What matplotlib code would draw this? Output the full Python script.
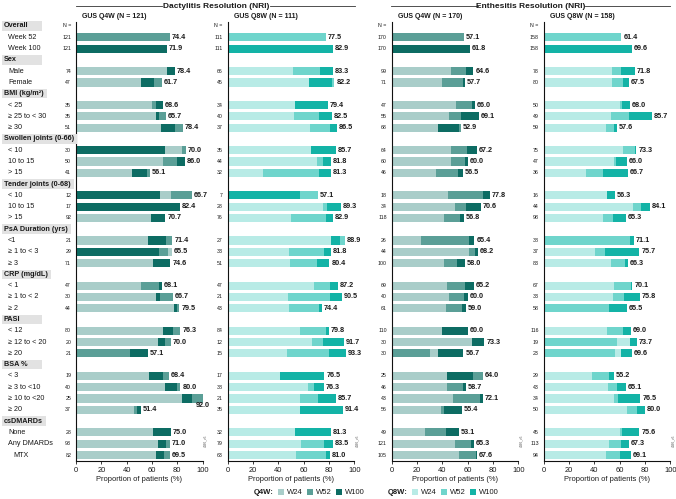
import matplotlib
matplotlib.use('Agg')
import matplotlib.pyplot as plt
from matplotlib.patches import Rectangle
from matplotlib.lines import Line2D
from matplotlib import transforms

plt.rcParams['font.family'] = ['Liberation Sans', 'DejaVu Sans']

W, H = 676, 499

# subgroup structure (header, rows)
groups = [
    ("Overall", ["Week 52", "Week 100"]),
    ("Sex", ["Male", "Female"]),
    ("BMI (kg/m²)", ["< 25", "≥ 25 to < 30", "≥ 30"]),
    ("Swollen joints (0-66)", ["< 10", "10 to 15", "> 15"]),
    ("Tender joints (0-68)", ["< 10", "10 to 15", "> 15"]),
    ("PsA Duration (yrs)", ["<1", "≥ 1 to < 3", "≥ 3"]),
    ("CRP (mg/dL)", ["< 1", "≥ 1 to < 2", "≥ 2"]),
    ("PASI", ["< 12", "≥ 12 to < 20", "≥ 20"]),
    ("BSA %", ["< 3", "≥ 3 to <10", "≥ 10 to <20", "≥ 20"]),
    ("csDMARDs", ["None", "Any DMARDs", "MTX"]),
]

panel_titles = ["GUS Q4W (N = 121)", "GUS Q8W (N = 111)", "GUS Q4W (N = 170)", "GUS Q8W (N = 158)"]

# overall week 52 / week 100
overall_w52 = [74.4, 77.5, 57.1, 61.4]
overall_w100 = [71.9, 82.9, 61.8, 69.6]

# N per row (2 overall rows + 27 subgroup rows)
n_dact_q4w = [121, 121, 74, 47, 35, 35, 51, 30, 50, 41, 12, 17, 92, 21, 29, 71, 47, 30, 44, 80, 20, 21, 19, 40, 25, 37, 28, 93, 82]
n_dact_q8w = [111, 111, 66, 45, 34, 40, 37, 35, 44, 32, 7, 28, 76, 27, 33, 51, 47, 21, 43, 84, 12, 15, 17, 38, 21, 35, 32, 79, 63]
n_enth_q4w = [170, 170, 99, 71, 47, 55, 68, 64, 60, 46, 18, 34, 118, 26, 44, 100, 69, 40, 61, 110, 30, 30, 25, 46, 43, 56, 49, 121, 105]
n_enth_q8w = [158, 158, 78, 80, 50, 49, 59, 75, 47, 36, 16, 44, 98, 38, 37, 83, 67, 33, 58, 116, 19, 23, 29, 43, 34, 50, 45, 113, 94]

# subgroup values
dact_q4w_w24 = [71.6, 51.3, 60.3, 63.2, 67.1, 83.4, 68.4, 44.2, 75.0, 82.4, 58.9, 57.1, 75.9, 60.6, 51.1, 63.3, 77.3, 68.8, 65.0, 42.9, 57.9, 70.0, 84.0, 45.9, 60.7, 64.5, 63.4]
dact_q4w_w52 = [78.4, 68.1, 62.9, 71.4, 84.3, 86.7, 80.0, 58.5, 91.7, 82.4, 70.7, 76.2, 72.4, 74.6, 66.0, 76.7, 81.8, 82.5, 75.0, 42.9, 73.7, 82.5, 100.0, 48.6, 75.0, 74.2, 74.4]
dact_q4w_w100 = [78.4, 61.7, 68.6, 65.7, 78.4, 70.0, 86.0, 56.1, 66.7, 82.4, 70.7, 71.4, 65.5, 74.6, 68.1, 66.7, 79.5, 76.3, 70.0, 57.1, 68.4, 80.0, 92.0, 51.4, 75.0, 71.0, 69.5]

dact_q8w_w24 = [51.5, 64.4, 52.9, 52.5, 64.9, 65.7, 70.5, 28.1, 71.4, 75.0, 50.0, 81.5, 48.5, 49.0, 68.1, 47.6, 48.8, 57.1, 66.7, 46.7, 41.2, 63.2, 57.1, 57.1, 53.1, 58.2, 54.0]
dact_q8w_w52 = [72.7, 84.4, 79.4, 72.5, 81.1, 85.7, 75.0, 71.9, 71.4, 78.6, 77.6, 92.6, 75.8, 70.6, 80.9, 81.0, 72.1, 77.4, 75.0, 80.0, 76.5, 68.4, 71.4, 91.4, 81.3, 75.9, 77.8]
dact_q8w_w100 = [83.3, 82.2, 79.4, 82.5, 86.5, 85.7, 81.8, 81.3, 57.1, 89.3, 82.9, 88.9, 81.8, 80.4, 87.2, 90.5, 74.4, 79.8, 91.7, 93.3, 76.5, 76.3, 85.7, 91.4, 81.3, 83.5, 81.0]

enth_q4w_w24 = [46.5, 39.4, 51.1, 45.5, 36.8, 46.9, 46.7, 34.8, 44.4, 50.0, 41.5, 23.1, 61.4, 41.0, 43.5, 45.0, 42.6, 40.0, 63.3, 36.7, 44.0, 43.5, 48.8, 39.3, 26.5, 50.4, 53.3]
enth_q4w_w52 = [58.6, 56.3, 63.8, 54.5, 54.4, 59.4, 58.3, 52.2, 72.2, 58.8, 54.2, 61.5, 65.9, 52.0, 58.0, 57.5, 55.7, 60.0, 73.3, 30.0, 72.0, 56.5, 69.8, 41.1, 42.9, 62.8, 66.7]
enth_q4w_w100 = [64.6, 57.7, 66.0, 69.1, 52.9, 67.2, 60.0, 56.5, 77.8, 70.6, 56.8, 65.4, 68.2, 58.0, 65.2, 60.0, 59.0, 60.0, 73.3, 56.7, 64.0, 58.7, 72.1, 55.4, 53.1, 65.3, 67.6]

enth_q8w_w24 = [53.8, 53.8, 60.0, 53.1, 49.2, 62.7, 55.3, 33.3, 50.0, 70.5, 46.9, 68.4, 40.5, 53.0, 55.2, 54.5, 51.7, 50.0, 68.4, 60.9, 37.9, 51.2, 55.9, 66.0, 60.0, 51.3, 48.9]
enth_q8w_w52 = [61.5, 62.5, 62.0, 67.3, 55.9, 72.0, 57.4, 47.2, 56.3, 77.3, 55.1, 68.4, 48.6, 63.9, 68.7, 63.6, 51.7, 62.9, 57.9, 56.5, 51.7, 58.1, 58.8, 74.0, 62.2, 61.1, 60.6]
enth_q8w_w100 = [71.8, 67.5, 68.0, 85.7, 57.6, 73.3, 66.0, 66.7, 56.3, 84.1, 65.3, 71.1, 75.7, 66.3, 70.1, 75.8, 65.5, 69.0, 73.7, 69.6, 55.2, 65.1, 76.5, 80.0, 75.6, 67.3, 69.1]

q4w_colors = ['#a9cdc9', '#5b9f97', '#0d6c63']
q8w_colors = ['#b8ebe6', '#6fd5cc', '#13b3a6']
txt = '#1a1a1a'

panels = [
    (dact_q4w_w24, dact_q4w_w52, dact_q4w_w100, n_dact_q4w, q4w_colors),
    (dact_q8w_w24, dact_q8w_w52, dact_q8w_w100, n_dact_q8w, q8w_colors),
    (enth_q4w_w24, enth_q4w_w52, enth_q4w_w100, n_enth_q4w, q4w_colors),
    (enth_q8w_w24, enth_q8w_w52, enth_q8w_w100, n_enth_q8w, q8w_colors),
]
panel_left = [76, 227.7, 391.7, 543.7]
panel_w = 126.5
ax_top, ax_bot = 21.7, 461

# slot positions for rows
header_slots = []
row_slots = []
row_labels = []
slot = 0
for head, rows in groups:
    header_slots.append((slot, head))
    slot += 1
    for r in rows:
        row_slots.append(slot)
        row_labels.append(r)
        slot += 1

fig = plt.figure(figsize=(W / 100, H / 100), dpi=100)

axes = []
for p, (w24, w52, w100, ns, cols) in enumerate(panels):
    ax = fig.add_axes([panel_left[p] / W, (H - ax_bot) / H, panel_w / W, (ax_bot - ax_top) / H])
    axes.append(ax)
    bh = 0.72
    # overall rows
    ax.barh(row_slots[0], overall_w52[p], height=bh, color=cols[1])
    ax.barh(row_slots[1], overall_w100[p], height=bh, color=cols[2])
    for y, v in zip(row_slots[:2], [overall_w52[p], overall_w100[p]]):
        ax.text(v + 1.5, y, f"{v:.1f}", va='center', ha='left', fontsize=5.2, fontweight='bold', color=txt)
    # subgroup rows, longest drawn first
    for i, y in enumerate(row_slots[2:]):
        vals = [w24[i], w52[i], w100[i]]
        order = sorted(range(3), key=lambda k: (-vals[k], k))
        for k in order:
            ax.barh(y, vals[k], height=bh, color=cols[k])
        m = max(vals)
        if m >= 98:
            ax.text(100, y + 0.6, f"{w100[i]:.1f}", va='center', ha='center', fontsize=5.2,
                    fontweight='bold', color=txt)
        else:
            ax.text(m + 1.5, y, f"{w100[i]:.1f}", va='center', ha='left', fontsize=5.2,
                    fontweight='bold', color=txt)
    # N column
    ax.annotate("N =", xy=(0, 0), xycoords=('axes fraction', 'data'), xytext=(-3.5, 0),
                textcoords='offset points', ha='right', va='center', fontsize=3.8, color=txt)
    for y, n in zip(row_slots, ns):
        ax.annotate(str(n), xy=(0, y), xycoords=('axes fraction', 'data'), xytext=(-3.5, 0),
                    textcoords='offset points', ha='right', va='center', fontsize=3.8, color=txt)

    ax.set_xlim(0, 100)
    ax.set_ylim(slot - 1 + (ax_bot - 455) / 11.29, -(26 - ax_top) / 11.29)
    ax.set_yticks([])
    ax.set_xticks([0, 20, 40, 60, 80, 100])
    ax.tick_params(axis='x', labelsize=5.4, length=2.5, width=0.6, pad=1.5, colors=txt)
    ax.set_xlabel("Proportion of patients (%)", fontsize=5.4, labelpad=2, color=txt)
    for s in ['top', 'right']:
        ax.spines[s].set_visible(False)
    for s in ['left', 'bottom']:
        ax.spines[s].set_linewidth(0.8)
        ax.spines[s].set_color('#111111')
    fig.text((panel_left[p] + 6) / W, 1 - 17 / H, panel_titles[p], fontsize=5, fontweight='bold',
             ha='left', va='center', color=txt)
    fig.text((panel_left[p] + panel_w + 3) / W, 1 - 441 / H, "4466_v5", fontsize=2.3,
             rotation=90, ha='center', va='center', color='#555555')

# left labels
blend = transforms.blended_transform_factory(fig.transFigure, axes[0].transData)
head_texts = []
for y, head in header_slots:
    t = fig.text(4 / W, y, head, transform=blend, fontsize=5.2, fontweight='bold',
                 ha='left', va='center', color=txt, zorder=3)
    head_texts.append((y, t))
for y, lab in zip(row_slots, row_labels):
    x = 13 if lab == "MTX" else 8
    fig.text(x / W, y, lab, transform=blend, fontsize=5.2, ha='left', va='center', color=txt)

fig.canvas.draw()
renderer = fig.canvas.get_renderer()
for y, t in head_texts:
    bb = t.get_window_extent(renderer)
    right = max(42, bb.x1 + 3)
    fig.add_artist(Rectangle((2 / W, y - 0.42), (right - 2) / W, 0.84, transform=blend,
                             facecolor='#e2e2e2', edgecolor='none', zorder=1))

# top section titles with lines
def section(cx, x0, x1, label):
    ty = 1 - 6 / H
    fig.text(cx / W, ty, label, fontsize=6, fontweight='bold', ha='center', va='center', color=txt)
    fig.add_artist(Line2D([x0[0] / W, x0[1] / W], [ty] * 2, color='#333333', lw=0.6))
    fig.add_artist(Line2D([x1[0] / W, x1[1] / W], [ty] * 2, color='#333333', lw=0.6))

section(216, (76, 162), (270, 355), "Dactylitis Resolution (NRI)")
section(531, (391, 478), (585, 670), "Enthesitis Resolution (NRI)")

# legend
def legend(x, title, cols):
    ly = 1 - 492 / H
    fig.text(x / W, ly, title, fontsize=5.5, fontweight='bold', ha='left', va='center', color=txt)
    xs = x + 24
    for c, lab in zip(cols, ["W24", "W52", "W100"]):
        fig.add_artist(Rectangle((xs / W, ly - 3 / H), 6 / W, 6 / H, facecolor=c, edgecolor='none'))
        fig.text((xs + 9) / W, ly, lab, fontsize=5.5, ha='left', va='center', color=txt)
        xs += 29

legend(254, "Q4W:", q4w_colors)
legend(388, "Q8W:", q8w_colors)

fig.savefig('out.png', dpi=100)
